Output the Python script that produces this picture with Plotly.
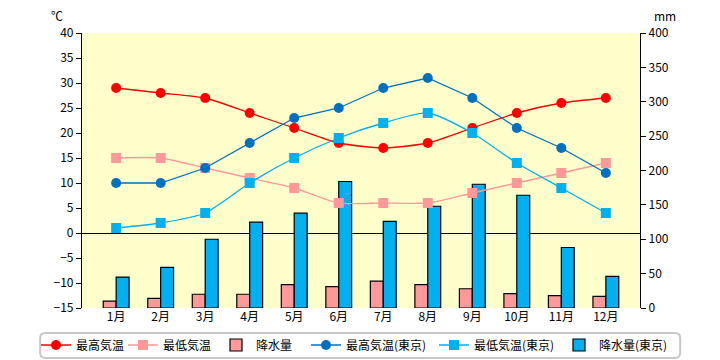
import plotly.graph_objects as go

months = ["1月", "2月", "3月", "4月", "5月", "6月", "7月", "8月", "9月", "10月", "11月", "12月"]
max_temp = [29, 28, 27, 24, 21, 18, 17, 18, 21, 24, 26, 27]
min_temp = [15, 15, 13, 11, 9, 6, 6, 6, 8, 10, 12, 14]
precip = [10, 14, 20, 20, 34, 31, 39, 34, 28, 21, 18, 17]
max_temp_tokyo = [10, 10, 13, 18, 23, 25, 29, 31, 27, 21, 17, 12]
min_temp_tokyo = [1, 2, 4, 10, 15, 19, 22, 24, 20, 14, 9, 4]
precip_tokyo = [45, 59, 100, 125, 138, 184, 126, 148, 180, 164, 88, 46]

temp_ticks = list(range(-15, 45, 5))
precip_ticks = list(range(0, 450, 50))

FONT = "Noto Sans CJK JP"

fig = go.Figure()

fig.add_trace(go.Scatter(x=months, y=max_temp, name="最高気温", yaxis="y2", legend="legend",
                         mode="lines+markers", line=dict(color="#FF0000", width=1.3, shape="spline", smoothing=0.6),
                         marker=dict(symbol="circle", size=10, color="#FF0000")))
fig.add_trace(go.Scatter(x=months, y=min_temp, name="最低気温", yaxis="y2", legend="legend2",
                         mode="lines+markers", line=dict(color="#FF9999", width=1.3, shape="spline", smoothing=0.6),
                         marker=dict(symbol="square", size=10, color="#FF9999")))
fig.add_trace(go.Bar(x=months, y=precip, name="降水量", yaxis="y", legend="legend3",
                     marker=dict(color="#FF9999", line=dict(color="#000000", width=1.2))))
fig.add_trace(go.Scatter(x=months, y=max_temp_tokyo, name="最高気温(東京)", yaxis="y2", legend="legend4",
                         mode="lines+markers", line=dict(color="#0070C0", width=1.3),
                         marker=dict(symbol="circle", size=10, color="#0070C0")))
fig.add_trace(go.Scatter(x=months, y=min_temp_tokyo, name="最低気温(東京)", yaxis="y2", legend="legend5",
                         mode="lines+markers", line=dict(color="#00B0F0", width=1.3, shape="spline", smoothing=0.6),
                         marker=dict(symbol="square", size=10, color="#00B0F0")))
fig.add_trace(go.Bar(x=months, y=precip_tokyo, name="降水量(東京)", yaxis="y", legend="legend6",
                     marker=dict(color="#00B0F0", line=dict(color="#000000", width=1.2))))

text_starts = [78, 165, 258, 348, 476, 601]
legends = {}
for i, xs in enumerate(text_starts):
    key = "legend" if i == 0 else f"legend{i + 1}"
    legends[key] = dict(orientation="h", xref="container", yref="container",
                        x=(xs - 42) / 720, xanchor="left", y=15 / 360, yanchor="middle",
                        bgcolor="rgba(0,0,0,0)", borderwidth=0,
                        font=dict(family=FONT, size=12), itemwidth=30)

fig.update_layout(
    width=720, height=360,
    margin=dict(l=82, r=80, t=33, b=52, autoexpand=False),
    paper_bgcolor="#FFFFFF",
    plot_bgcolor="#FFFFCC",
    font=dict(family=FONT, size=12, color="#000000"),
    barmode="group",
    bargap=0.42,
    bargroupgap=0,
    showlegend=True,
    xaxis=dict(showgrid=False, showline=False, ticks="", tickfont=dict(size=12),
               fixedrange=True),
    yaxis=dict(side="right", range=[0, 400], tickvals=precip_ticks, showgrid=False,
               showline=True, linecolor="#000000", linewidth=1.2, ticks="outside",
               ticklen=5, tickcolor="#000000", zeroline=False, tickfont=dict(size=12)),
    yaxis2=dict(side="left", overlaying="y", range=[-15, 40], tickvals=temp_ticks, showgrid=False,
                showline=True, linecolor="#000000", linewidth=1.2, ticks="outside",
                ticklen=5, tickcolor="#000000", zeroline=True, zerolinecolor="#000000",
                zerolinewidth=1.2, tickfont=dict(size=12)),
    annotations=[
        dict(text="℃", xref="paper", yref="paper", x=-0.045, y=1.065, xanchor="center",
             yanchor="middle", showarrow=False, font=dict(size=12)),
        dict(text="mm", xref="paper", yref="paper", x=1.045, y=1.065, xanchor="center",
             yanchor="middle", showarrow=False, font=dict(size=12)),
    ],
    shapes=[
        dict(type="path", xref="paper", yref="paper", layer="below",
             path="M -0.066,-0.091 L 1.063,-0.091 Q 1.072,-0.091 1.072,-0.11 L 1.072,-0.163 "
                  "Q 1.072,-0.182 1.063,-0.182 L -0.066,-0.182 Q -0.075,-0.182 -0.075,-0.163 "
                  "L -0.075,-0.11 Q -0.075,-0.091 -0.066,-0.091 Z",
             line=dict(color="#C8C8C8", width=2), fillcolor="#FFFFFF"),
    ],
    **legends,
)

fig.write_html("out.html", config={"displayModeBar": False},
               post_script="document.body.style.margin='0';")
